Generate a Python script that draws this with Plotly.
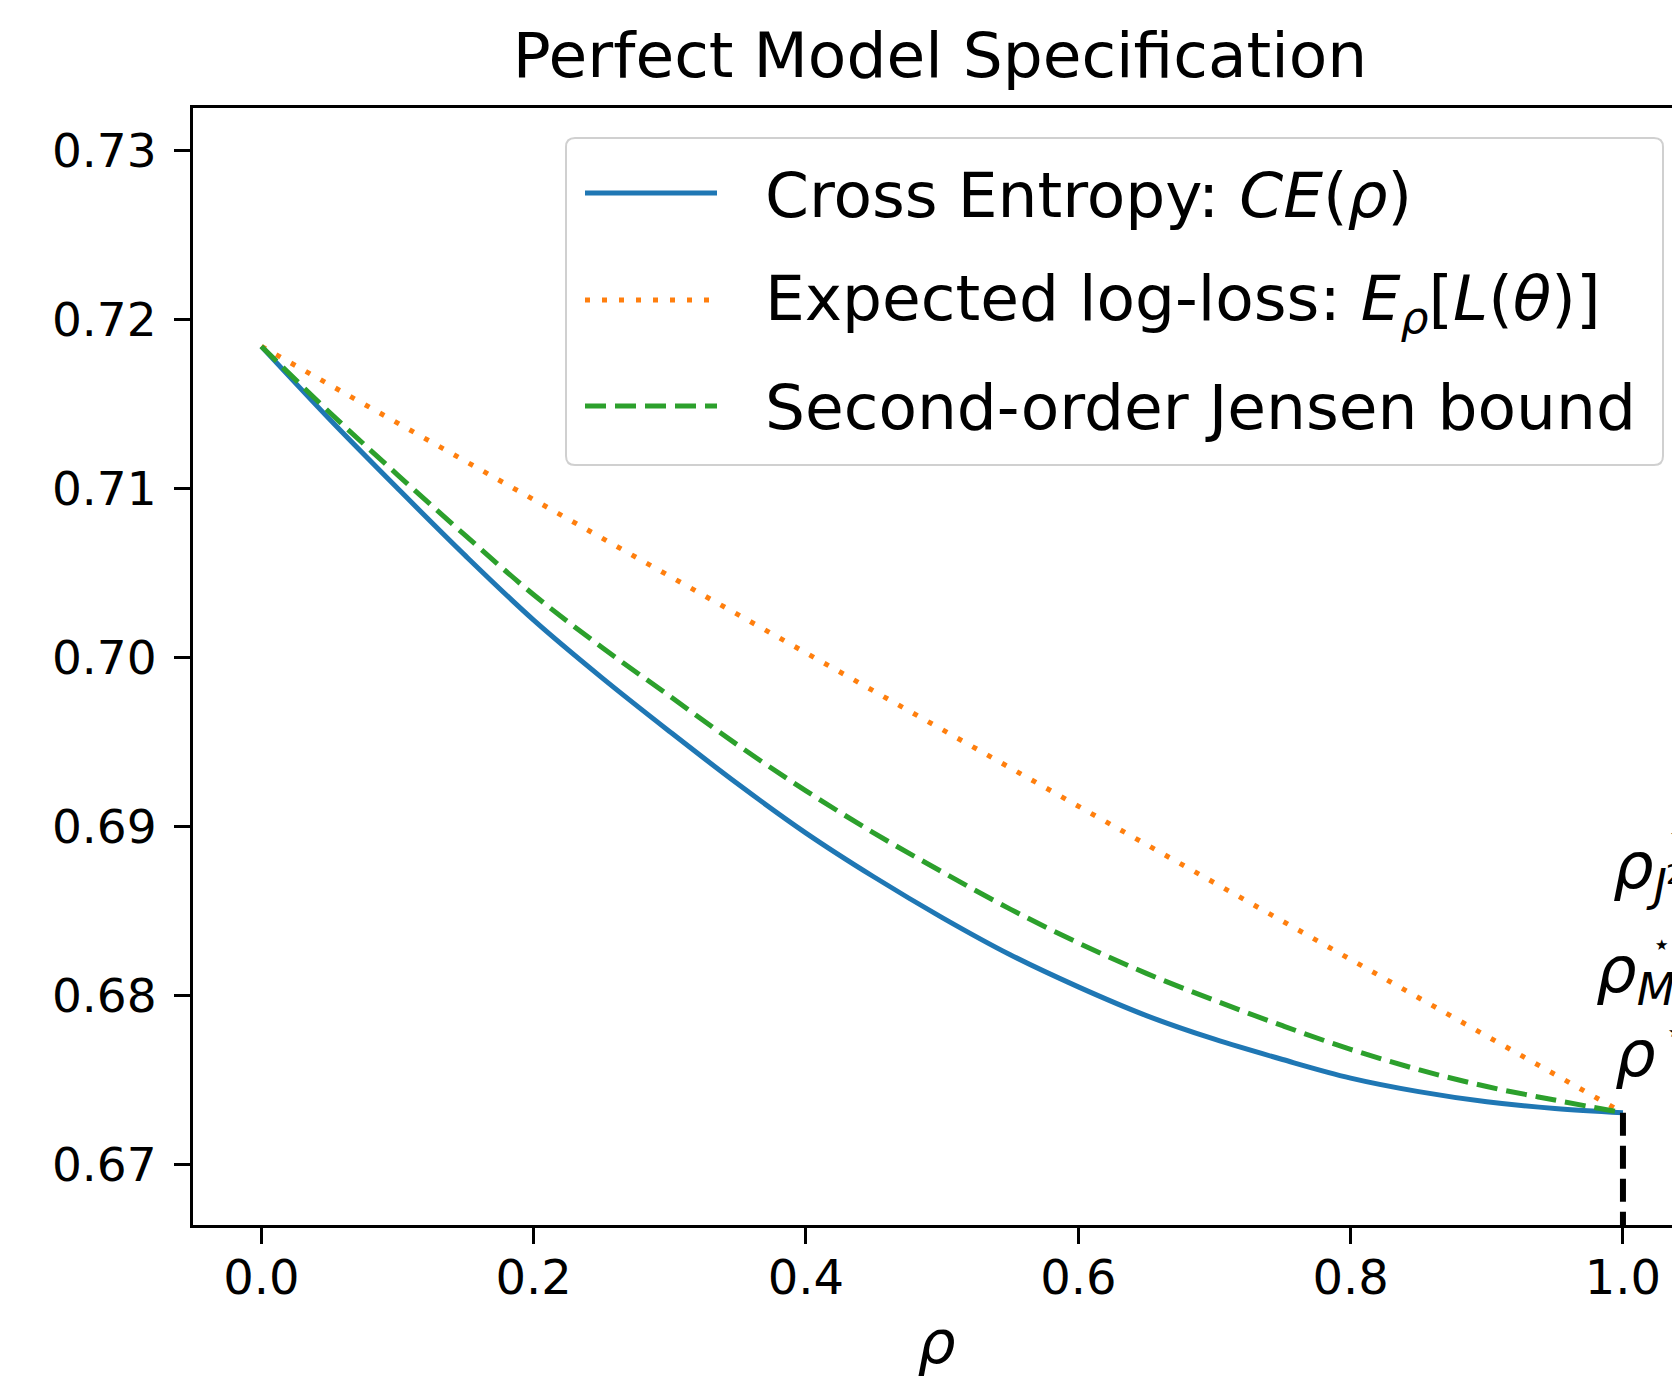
import plotly.graph_objects as go

# ---------------- data ----------------
rho = [0.00, 0.05, 0.10, 0.15, 0.20, 0.25, 0.30, 0.35, 0.40, 0.45, 0.50,
       0.55, 0.60, 0.65, 0.70, 0.75, 0.80, 0.85, 0.90, 0.95, 1.00]
cross_entropy = [0.7184, 0.7141, 0.7100, 0.7060, 0.7022, 0.6988, 0.6956, 0.6925,
                 0.6896, 0.6870, 0.6846, 0.6824, 0.6805, 0.6788, 0.6774, 0.6762,
                 0.6751, 0.6743, 0.6737, 0.6733, 0.67305]
jensen_bound = [0.7184, 0.7145, 0.7108, 0.7072, 0.7037, 0.7006, 0.6977, 0.6948,
                0.6921, 0.6896, 0.6873, 0.6851, 0.6831, 0.6813, 0.6797, 0.6782,
                0.6768, 0.6756, 0.6746, 0.6738, 0.67305]
rho_ends = [0.0, 1.0]
expected_logloss = [0.7184, 0.67305]

x_ticks = [0.0, 0.2, 0.4, 0.6, 0.8, 1.0]
y_ticks = [0.67, 0.68, 0.69, 0.70, 0.71, 0.72, 0.73]
y_tick_labels = ["0.67", "0.68", "0.69", "0.70", "0.71", "0.72", "0.73"]

x_range = [-0.0502, 1.0419]
y_range = [0.666408, 0.732503]

# ---------------- style ----------------
BLUE, ORANGE, GREEN = "#1f77b4", "#ff7f0e", "#2ca02c"
FONT = "DejaVu Sans"
O = 8                      # default body margin of the page
W, H = 1680 - O, 1386 - 2 * O
ML, MR, MT, MB = 193 - O, 0, 108 - O, H - (1225 - O)
PW, PH = W - ML - MR, H - MT - MB


def px(xp):   # page x pixel -> paper
    return (xp - O - ML) / PW


def py(yp):   # page y pixel -> paper
    return (H - MB - (yp - O)) / PH


LW = 5
DOT = "5px,12px"
DASH = "21px,9px"

fig = go.Figure()

fig.add_trace(go.Scatter(x=rho, y=cross_entropy, mode="lines",
                         line=dict(color=BLUE, width=LW, shape="spline"),
                         name="Cross Entropy", showlegend=False))
fig.add_trace(go.Scatter(x=rho_ends, y=expected_logloss, mode="lines",
                         line=dict(color=ORANGE, width=LW, dash=DOT),
                         name="Expected log-loss", showlegend=False))
fig.add_trace(go.Scatter(x=rho, y=jensen_bound, mode="lines",
                         line=dict(color=GREEN, width=LW, dash=DASH, shape="spline"),
                         name="Second-order Jensen bound", showlegend=False))
# vertical dashed marker at the optimum
fig.add_trace(go.Scatter(x=[rho[-1], rho[-1]], y=[cross_entropy[-1], y_range[0]],
                         mode="lines", line=dict(color="black", width=6, dash="23px,10px"),
                         showlegend=False))

# ---------------- manual legend ----------------
x0, x1, y0, y1, r = 566, 1663, 138, 465, 9
path = (f"M {px(x0 + r)},{py(y0)} L {px(x1 - r)},{py(y0)} "
        f"Q {px(x1)},{py(y0)} {px(x1)},{py(y0 + r)} "
        f"L {px(x1)},{py(y1 - r)} Q {px(x1)},{py(y1)} {px(x1 - r)},{py(y1)} "
        f"L {px(x0 + r)},{py(y1)} Q {px(x0)},{py(y1)} {px(x0)},{py(y1 - r)} "
        f"L {px(x0)},{py(y0 + r)} Q {px(x0)},{py(y0)} {px(x0 + r)},{py(y0)} Z")
shapes = [dict(type="path", xref="paper", yref="paper", path=path,
               line=dict(color="#d0d0d0", width=2), fillcolor="rgba(255,255,255,0.8)",
               layer="above")]
legend_rows = [
    (193, BLUE, "solid", "Cross Entropy: <i>CE</i>(<i>ρ</i>)"),
    (300, ORANGE, DOT, "Expected log-loss: <i>E<sub>ρ</sub></i>[<i>L</i>(<i>θ</i>)]"),
    (406, GREEN, DASH, "Second-order Jensen bound"),
]
annotations = []
for yy, col, dash, label in legend_rows:
    shapes.append(dict(type="line", xref="paper", yref="paper",
                       x0=px(585), x1=px(717), y0=py(yy), y1=py(yy),
                       line=dict(color=col, width=LW, dash=dash), layer="above"))
    annotations.append(dict(x=px(763), y=py(yy + 2), xref="paper", yref="paper",
                            text=label, showarrow=False, xanchor="left", yanchor="middle",
                            font=dict(family=FONT, size=63, color="black")))

# ---------------- optimum labels (cropped at the right edge) ----------------
lab_font = dict(family=FONT, size=64, color="black")
star_font = dict(family=FONT, size=15, color="black")
annotations += [
    dict(x=1.0, y=0.67655, xref="x", yref="y", text="<i>ρ</i>", showarrow=False,
         xanchor="left", yanchor="middle", xshift=-10, font=lab_font),
    dict(x=1.0, y=0.67783, xref="x", yref="y", text="★", showarrow=False,
         xanchor="center", yanchor="middle", xshift=52, font=star_font),
    dict(x=1.0, y=0.68125, xref="x", yref="y", text="<i>ρ<sub>ML</sub></i>", showarrow=False,
         xanchor="left", yanchor="middle", xshift=-29, font=lab_font),
    dict(x=1.0, y=0.68298, xref="x", yref="y", text="★", showarrow=False,
         xanchor="center", yanchor="middle", xshift=39, font=star_font),
    dict(x=1.0, y=0.6874, xref="x", yref="y", text="<i>ρ<sub>J</sub></i>", showarrow=False,
         xanchor="left", yanchor="middle", xshift=-12, font=lab_font),
    dict(x=1.0, y=0.68712, xref="x", yref="y", text="2", showarrow=False,
         xanchor="center", yanchor="middle", xshift=52, font=dict(family=FONT, size=26)),
    dict(x=1.0, y=0.68949, xref="x", yref="y", text="★", showarrow=False,
         xanchor="center", yanchor="middle", xshift=54, font=star_font),
]

fig.update_layout(
    width=W, height=H,
    margin=dict(l=ML, r=MR, t=MT, b=MB, autoexpand=False),
    paper_bgcolor="white", plot_bgcolor="white",
    font=dict(family=FONT, color="black"),
    title=dict(text="Perfect Model Specification", x=(940 - O) / W, xref="container",
               xanchor="center", y=1 - (55 - O) / H, yref="container", yanchor="middle",
               font=dict(family=FONT, size=63, color="black")),
    shapes=shapes, annotations=annotations,
)
fig.update_xaxes(range=x_range, tickvals=x_ticks, tickformat=".1f",
                 ticks="outside", ticklen=16, tickwidth=3, tickcolor="black",
                 showline=True, linewidth=3, linecolor="black", mirror=True,
                 showgrid=False, zeroline=False, automargin=False,
                 ticklabelstandoff=-8,
                 tickfont=dict(family=FONT, size=48, color="black"),
                 title=dict(text="<i>ρ</i>", font=dict(family=FONT, size=60), standoff=18))
fig.update_yaxes(range=y_range, tickvals=y_ticks, ticktext=y_tick_labels,
                 ticks="outside", ticklen=16, tickwidth=3, tickcolor="black",
                 showline=True, linewidth=3, linecolor="black", mirror=False,
                 showgrid=False, zeroline=False, automargin=False,
                 ticklabelstandoff=8,
                 tickfont=dict(family=FONT, size=47, color="black"))

fig.write_html("out.html")
